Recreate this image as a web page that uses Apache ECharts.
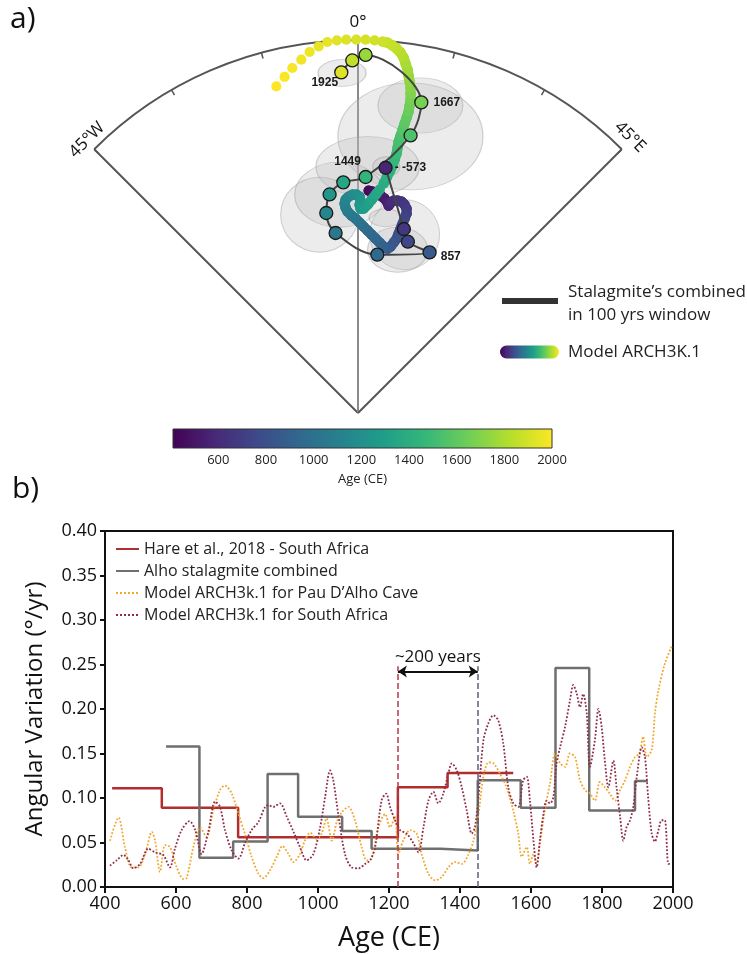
<!DOCTYPE html>
<html><head><meta charset="utf-8">
<script src="https://cdn.jsdelivr.net/npm/echarts@6/dist/echarts.min.js"></script>
<style>html,body{margin:0;padding:0;background:#fff}#c{width:747px;height:954px}</style>
</head><body><div id="c"></div><script>
// ---------- Panel a: stalagmite combined directions (radius, declination °, age CE)
const stalagAge = [573, 660, 760, 857, 950, 1050, 1150, 1250, 1350, 1449, 1550, 1667, 1750, 1850, 1925];
const stalagRadius = [59.55, 45.75, 43.05, 42.42, 38.49, 43.77, 48.86, 53.18, 55.76, 56.97, 68.16, 76.49, 86.41, 85.08, 82.28];
const stalagDec = [6.42, 14.0, 16.24, 24.03, 6.95, -7.09, -9.01, -7.40, -3.65, 1.84, 10.73, 11.52, 1.22, -0.93, -2.81];
const stalagLabel = ['573', '', '', '857', '', '', '', '', '', '1449', '', '1667', '', '', '1925'];

// confidence ellipses (centre radius, declination, width, height in radius units)
const ellRadius = [82.13, 75.71, 67.93, 59.48, 59.82, 48.74, 52.86, 44.47, 40.55, 47.59];
const ellDec = [-2.68, 11.47, 10.73, 2.23, 6.55, -10.96, -4.82, 14.65, 13.63, 8.04];
const ellWidth = [11.6, 20.5, 35, 24.9, 6.5, 18.8, 21.7, 16.9, 14.5, 8];
const ellHeight = [6.5, 13.3, 25.8, 14.5, 4.8, 18.1, 15.7, 16.9, 10.9, 4.3];

// Model ARCH3K.1 track
const modelAge = [450,470,490,510,530,550,570,590,610,630,650,670,690,710,730,750,770,790,810,830,850,870,890,910,930,950,970,990,1010,1030,1050,1070,1090,1110,1130,1150,1170,1190,1210,1230,1250,1270,1290,1310,1330,1350,1370,1390,1410,1430,1450,1470,1490,1510,1530,1550,1570,1590,1610,1630,1650,1670,1690,1710,1730,1750,1770,1790,1810,1830,1850,1860,1870,1880,1890,1900,1910,1920,1930,1940,1950,1960,1970,1980,1990,2000];
const modelRadius = [53.70,53.51,53.11,52.72,52.11,51.25,50.56,51.35,51.94,52.12,52.06,51.50,50.67,49.50,48.21,46.93,45.64,44.36,43.08,41.98,40.89,40.28,40.60,41.42,42.27,43.15,44.05,44.97,45.92,46.89,47.63,48.64,49.63,50.61,51.55,52.24,52.69,52.67,52.19,51.23,50.26,49.30,49.31,50.31,51.57,52.84,54.13,55.67,57.20,58.72,60.25,61.76,63.26,64.73,66.19,67.70,69.20,70.71,72.22,73.73,75.19,76.66,78.09,79.52,80.91,82.30,83.70,85.06,86.44,87.54,88.39,89.02,89.63,89.79,89.99,90.09,90.07,90.12,90.05,89.82,88.97,87.89,86.34,84.74,82.99,81.23];
const modelDec = [2.73,3.77,4.85,5.94,7.08,8.01,8.40,8.81,9.52,10.57,11.66,12.61,13.38,13.70,13.49,13.26,13.02,12.76,12.49,11.81,11.09,10.21,8.75,7.23,5.77,4.36,3.02,1.72,0.48,-0.71,-1.86,-2.96,-3.46,-3.66,-3.33,-2.49,-1.42,-0.37,0.42,0.70,0.44,0.73,1.57,2.64,3.65,4.61,5.52,6.37,6.93,7.46,7.96,8.22,8.47,8.49,8.51,8.73,8.95,9.15,9.35,9.53,9.53,9.53,9.35,9.18,8.85,8.53,8.22,7.76,7.31,6.74,6.05,5.38,4.57,3.79,2.55,1.17,-0.26,-1.80,-3.24,-4.73,-6.13,-7.64,-9.12,-10.78,-12.32,-14.04];

const angleTicks = {'-45': '45°W', '0': '0°', '45': '45°E'};
const colorbarMin = 410, colorbarMax = 2000;
const colorbarTicks = [600, 800, 1000, 1200, 1400, 1600, 1800, 2000];

// ---------- Panel b: angular variation (°/yr)
const hareAge = [420, 560, 775, 1225, 1365, 1550];
const hareRate = [0.111, 0.089, 0.056, 0.112, 0.128, 0.128];
const alhoAge = [572, 666, 761, 858, 944, 1068, 1151, 1345, 1450, 1571, 1669, 1764, 1893, 1929];
const alhoRate = [0.158, 0.033, 0.051, 0.127, 0.079, 0.063, 0.043, 0.041, 0.120, 0.089, 0.246, 0.086, 0.119, 0.119];
const pauAge = [414,438,456,475,494,513,532,541,555,569,583,602,621,630,649,668,686,705,724,738,757,776,794,813,832,846,865,884,900,917,931,949,963,978,996,1010,1024,1039,1053,1067,1086,1104,1123,1137,1151,1170,1189,1203,1217,1226,1240,1259,1278,1292,1311,1330,1348,1367,1386,1405,1423,1438,1452,1466,1480,1494,1513,1531,1550,1564,1574,1588,1597,1607,1616,1625,1639,1654,1668,1682,1696,1710,1724,1738,1752,1766,1780,1794,1808,1822,1837,1851,1865,1879,1893,1905,1916,1926,1940,1949,1959,1977,1996];
const pauRate = [.052,.078,.045,.022,.022,.037,.062,.052,.017,.047,.045,.022,.009,.010,.045,.067,.056,.086,.109,.114,.105,.082,.060,.034,.015,.010,.019,.034,.046,.037,.028,.037,.052,.061,.054,.060,.077,.052,.073,.084,.090,.075,.045,.030,.032,.067,.082,.067,.079,.037,.052,.064,.060,.037,.015,.0075,.011,.022,.028,.026,.036,.052,.082,.124,.140,.139,.127,.112,.086,.060,.034,.045,.026,.037,.026,.049,.086,.118,.150,.139,.135,.150,.146,.120,.109,.105,.097,.118,.112,.105,.097,.109,.120,.135,.146,.150,.169,.146,.154,.195,.221,.251,.270];
const safAge = [414,433,452,466,480,499,522,541,564,583,597,616,638,654,672,691,710,724,738,757,776,794,813,832,851,860,874,893,912,931,949,968,987,1006,1020,1034,1043,1057,1076,1095,1114,1133,1147,1161,1179,1192,1203,1217,1231,1250,1269,1283,1297,1311,1325,1339,1353,1367,1377,1391,1405,1419,1433,1442,1452,1466,1480,1494,1508,1522,1536,1550,1564,1578,1588,1597,1607,1616,1625,1635,1644,1654,1663,1672,1682,1696,1710,1719,1729,1738,1747,1757,1766,1780,1790,1799,1808,1818,1832,1841,1851,1860,1869,1879,1888,1898,1912,1921,1930,1940,1949,1959,1968,1977,1987,1994];
const safRate = [.024,.030,.036,.030,.021,.026,.043,.039,.036,.022,.043,.064,.074,.064,.037,.062,.096,.090,.064,.041,.032,.049,.064,.073,.090,.092,.090,.094,.079,.062,.045,.030,.037,.067,.101,.131,.120,.082,.037,.022,.021,.026,.030,.045,.097,.105,.090,.075,.064,.060,.049,.039,.067,.097,.107,.094,.105,.127,.139,.131,.112,.086,.060,.067,.101,.165,.184,.193,.187,.161,.112,.094,.090,.120,.124,.097,.052,.022,.052,.082,.097,.094,.101,.139,.157,.180,.210,.227,.217,.202,.217,.195,.135,.165,.200,.180,.142,.112,.142,.112,.079,.052,.067,.075,.090,.124,.157,.146,.101,.060,.051,.064,.075,.075,.026,.026];
const windowStart = 1225, windowEnd = 1450, windowTop = 0.248, arrowLevel = 0.242;
const seriesNames = ['Hare et al., 2018 - South Africa', 'Alho stalagmite combined', 'Model ARCH3k.1 for Pau D\u2019Alho Cave', 'Model ARCH3k.1 for South Africa'];

// ---------- layout / style
const FONT = "'Open Sans', sans-serif";
const viridis = ['#440154','#482878','#3e4989','#31688e','#26828e','#1f9e89','#35b779','#6ece58','#b5de2b','#fde725'];
const POLAR_CX = 358, POLAR_CY = 413, POLAR_R = 373, R_MAX = 90;
const pxPerUnit = POLAR_R / R_MAX;
const CB = {left: 173, top: 429, width: 379, height: 19};
const DOT_R = 5.1;
const JOIN_MAX = 7.2;
const clear = 'rgba(0,0,0,0)';

const chart = echarts.init(document.getElementById('c'), null, {renderer: 'canvas'});

const gradient = new echarts.graphic.LinearGradient(0, 0, 1, 0,
  viridis.map((c, i) => ({offset: i / (viridis.length - 1), color: c})));

const labelStyle = {
  '573': {position: 'right', distance: 2, offset: [0, 0], formatter: '- -573'},
  '857': {position: 'right', distance: 4, offset: [0, 4]},
  '1449': {position: 'top', distance: 5, offset: [-18, 3]},
  '1667': {position: 'right', distance: 5, offset: [0, 0]},
  '1925': {position: 'left', distance: 0, offset: [4, 10]}
};

const stalagPoints = stalagAge.map((a, i) => {
  const item = {value: [stalagRadius[i], stalagDec[i], a]};
  const t = stalagLabel[i];
  if (t) {
    const s = labelStyle[t];
    item.label = {show: true, position: s.position, distance: s.distance, offset: s.offset,
      formatter: s.formatter || t, fontFamily: "'Liberation Sans', Arial, sans-serif",
      fontWeight: 'bold', fontSize: 12, color: '#1a1a1a'};
  }
  return item;
});

// model track: dots, joined into a band where consecutive dots overlap
function renderModel(params, api) {
  const i = params.dataIndex;
  const p = api.coord([api.value(0), api.value(1)]);
  const color = api.visual('color');
  const children = [{type: 'circle', shape: {cx: p[0], cy: p[1], r: DOT_R}, style: {fill: color}}];
  if (i < modelAge.length - 1) {
    const q = api.coord([modelRadius[i + 1], modelDec[i + 1]]);
    const d = Math.hypot(q[0] - p[0], q[1] - p[1]);
    if (d < JOIN_MAX) {
      children.push({type: 'line', shape: {x1: p[0], y1: p[1], x2: q[0], y2: q[1]},
        style: {stroke: color, lineWidth: 2 * DOT_R, lineCap: 'round'}});
    }
  }
  return {type: 'group', children: children};
}

const option = {
  animation: false,
  backgroundColor: '#fff',
  textStyle: {fontFamily: FONT},
  polar: {center: [POLAR_CX, POLAR_CY], radius: POLAR_R},
  angleAxis: {
    type: 'value', min: -45, max: 45, interval: 15,
    startAngle: 135, endAngle: 45, clockwise: true,
    axisLine: {lineStyle: {color: '#555', width: 2}},
    axisTick: {inside: true, length: 6, lineStyle: {color: '#555', width: 1.5}},
    axisLabel: {show: false},
    splitLine: {show: true, lineStyle: {width: 2,
      color: ['#555', clear, clear, '#8a8a8a', clear, clear, '#555']}}
  },
  radiusAxis: {type: 'value', min: 0, max: R_MAX,
    axisLine: {show: false}, axisTick: {show: false}, axisLabel: {show: false}, splitLine: {show: false}},
  grid: [
    {left: 105, right: 74, top: 531, bottom: 67, show: true, borderColor: '#111', borderWidth: 2, backgroundColor: clear},
    {left: CB.left, top: CB.top, width: CB.width, height: CB.height, show: false}
  ],
  xAxis: [
    {gridIndex: 0, type: 'value', min: 400, max: 2000, interval: 200,
      axisLine: {lineStyle: {color: '#111', width: 2}},
      axisTick: {length: 6, lineStyle: {color: '#111', width: 2}},
      axisLabel: {fontSize: 18, color: '#111', margin: 8, formatter: v => String(v)},
      splitLine: {show: false},
      name: 'Age (CE)', nameLocation: 'middle', nameGap: 38,
      nameTextStyle: {fontSize: 27, color: '#111'}},
    {gridIndex: 1, type: 'value', min: colorbarMin, max: colorbarMax,
      axisLine: {show: false}, axisTick: {show: false}, splitLine: {show: false},
      axisLabel: {customValues: colorbarTicks, fontSize: 13, color: '#222', margin: 6, formatter: v => String(v)},
      name: 'Age (CE)', nameLocation: 'middle', nameGap: 25,
      nameTextStyle: {fontSize: 13, color: '#222'}}
  ],
  yAxis: [
    {gridIndex: 0, type: 'value', min: 0, max: 0.4, interval: 0.05,
      axisLine: {show: true, lineStyle: {color: '#111', width: 2}},
      axisTick: {show: true, length: 5, lineStyle: {color: '#111', width: 2}},
      axisLabel: {fontSize: 18, color: '#111', formatter: v => v.toFixed(2)},
      splitLine: {show: false},
      name: 'Angular Variation (°/yr)', nameLocation: 'middle', nameGap: 58,
      nameTextStyle: {fontSize: 24, color: '#111'}},
    {gridIndex: 1, type: 'value', show: false, min: 0, max: 1}
  ],
  visualMap: {show: false, type: 'continuous', min: colorbarMin, max: colorbarMax,
    dimension: 2, seriesIndex: [1, 3], inRange: {color: viridis}},
  legend: {
    data: seriesNames, orient: 'vertical', left: 110, top: 536,
    itemWidth: 23, itemHeight: 10, itemGap: 6,
    itemStyle: {opacity: 0},
    textStyle: {fontSize: 16, color: '#222', fontFamily: FONT}
  },
  graphic: [
    {type: 'text', left: 10, top: 4, style: {text: 'a)', font: "30px 'Open Sans', sans-serif", fill: '#111'}},
    {type: 'text', left: 12, top: 474, style: {text: 'b)', font: "30px 'Open Sans', sans-serif", fill: '#111'}},
    {type: 'text', x: 358, y: 22, style: {text: angleTicks['0'], align: 'center', verticalAlign: 'middle', font: "17px 'Open Sans', sans-serif", fill: '#111'}},
    {type: 'text', x: 87, y: 140, rotation: Math.PI / 4, style: {text: angleTicks['-45'], align: 'center', verticalAlign: 'middle', font: "17px 'Open Sans', sans-serif", fill: '#111'}},
    {type: 'text', x: 630, y: 137, rotation: -Math.PI / 4, style: {text: angleTicks['45'], align: 'center', verticalAlign: 'middle', font: "17px 'Open Sans', sans-serif", fill: '#111'}},
    {type: 'line', shape: {x1: 502, y1: 301, x2: 558, y2: 301}, style: {stroke: '#333', lineWidth: 6}},
    {type: 'text', x: 568, y: 292, style: {text: 'Stalagmite\u2019s combined', verticalAlign: 'middle', font: "17px 'Open Sans', sans-serif", fill: '#222'}},
    {type: 'text', x: 568, y: 315, style: {text: 'in 100 yrs window', verticalAlign: 'middle', font: "17px 'Open Sans', sans-serif", fill: '#222'}},
    {type: 'rect', shape: {x: 500, y: 345.5, width: 59, height: 13, r: 6.5}, style: {fill: gradient}},
    {type: 'text', x: 568, y: 352, style: {text: 'Model ARCH3K.1', verticalAlign: 'middle', font: "17px 'Open Sans', sans-serif", fill: '#222'}},
    {type: 'rect', shape: {x: CB.left, y: CB.top, width: CB.width, height: CB.height}, style: {fill: gradient, stroke: '#333', lineWidth: 1}}
  ],
  series: [
    {name: 'ellipses', type: 'scatter', coordinateSystem: 'polar', z: 1, silent: true,
      data: ellRadius.map((r, i) => [r, ellDec[i], ellWidth[i], ellHeight[i]]),
      symbol: 'circle',
      symbolSize: d => [d[2] * pxPerUnit, d[3] * pxPerUnit],
      itemStyle: {color: 'rgba(190,190,190,0.36)', borderColor: 'rgba(150,150,150,0.55)', borderWidth: 1}},
    {name: 'Model ARCH3K.1', type: 'custom', coordinateSystem: 'polar', z: 2, silent: true,
      data: modelAge.map((a, i) => [modelRadius[i], modelDec[i], a]),
      renderItem: renderModel},
    {name: 'stalag line', type: 'line', coordinateSystem: 'polar', z: 3, silent: true,
      data: stalagAge.map((a, i) => [stalagRadius[i], stalagDec[i]]),
      smooth: 0.35, symbol: 'none', lineStyle: {color: '#444', width: 2}},
    {name: 'stalag points', type: 'scatter', coordinateSystem: 'polar', z: 4, silent: true,
      data: stalagPoints, symbolSize: 13,
      itemStyle: {borderColor: '#1a1a1a', borderWidth: 1.3, opacity: 1}},
    {name: seriesNames[0], type: 'line', xAxisIndex: 0, yAxisIndex: 0, step: 'end', symbol: 'none',
      data: hareAge.map((a, i) => [a, hareRate[i]]),
      itemStyle: {color: '#b02e2e'}, lineStyle: {color: '#b02e2e', width: 2.5}, z: 3},
    {name: seriesNames[1], type: 'line', xAxisIndex: 0, yAxisIndex: 0, step: 'end', symbol: 'none',
      data: alhoAge.map((a, i) => [a, alhoRate[i]]),
      itemStyle: {color: '#6f6f6f'}, lineStyle: {color: '#6f6f6f', width: 2.5}, z: 3},
    {name: seriesNames[2], type: 'line', xAxisIndex: 0, yAxisIndex: 0, symbol: 'none', smooth: 0.3,
      data: pauAge.map((a, i) => [a, pauRate[i]]),
      itemStyle: {color: '#f0a830'}, lineStyle: {color: '#f0a830', width: 1.8, type: 'dotted'}, z: 4},
    {name: seriesNames[3], type: 'line', xAxisIndex: 0, yAxisIndex: 0, symbol: 'none', smooth: 0.3,
      data: safAge.map((a, i) => [a, safRate[i]]),
      itemStyle: {color: '#8f2d48'}, lineStyle: {color: '#8f2d48', width: 1.8, type: 'dotted'}, z: 4,
      markLine: {silent: true, symbol: ['none', 'none'], animation: false,
        data: [
          [{coord: [windowStart, 0], lineStyle: {color: '#b5394a', type: 'dashed', width: 1.5}, label: {show: false}}, {coord: [windowStart, windowTop]}],
          [{coord: [windowEnd, 0], lineStyle: {color: '#5a6078', type: 'dashed', width: 1.5}, label: {show: false}}, {coord: [windowEnd, windowTop]}],
          [{coord: [windowStart, arrowLevel], symbol: 'arrow', symbolSize: 9,
            lineStyle: {color: '#111', type: 'solid', width: 1.8},
            label: {show: true, position: 'insideMiddleTop', distance: 6, formatter: '~200 years', fontSize: 17, color: '#111', fontFamily: FONT}},
           {coord: [windowEnd, arrowLevel], symbol: 'arrow', symbolSize: 9}]
        ]}}
  ]
};
chart.setOption(option);
</script></body></html>
